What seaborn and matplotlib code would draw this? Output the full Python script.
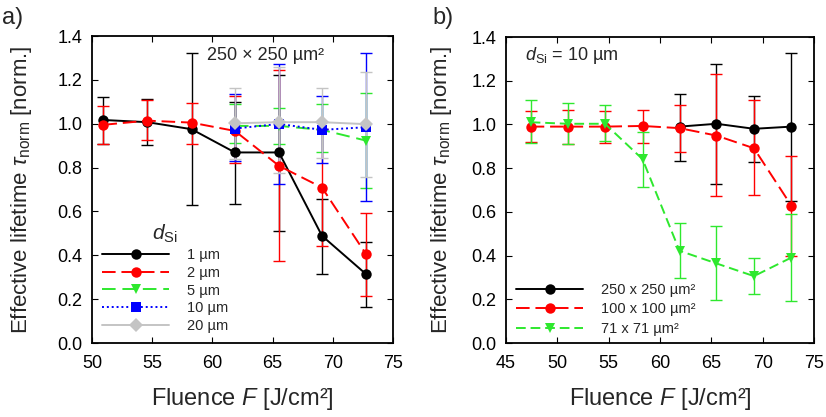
import numpy as np
import pandas as pd
import matplotlib
matplotlib.use("Agg")
import matplotlib.pyplot as plt
import seaborn as sns

# ---------------- data ----------------
F_a = [50.95, 54.6, 58.27, 61.87, 65.53, 69.1, 72.76]
F_a4 = [61.87, 65.53, 69.1, 72.76]

a_1um = [1.017, 1.007, 0.975, 0.869, 0.869, 0.489, 0.314]
a_1um_lo = [0.906, 0.902, 0.630, 0.636, 0.512, 0.316, 0.164]
a_1um_hi = [1.120, 1.111, 1.321, 1.100, 1.222, 0.656, 0.462]

a_2um = [0.995, 1.014, 1.005, 0.967, 0.808, 0.709, 0.405]
a_2um_lo = [0.906, 0.926, 0.906, 0.820, 0.372, 0.443, 0.216]
a_2um_hi = [1.080, 1.108, 1.093, 1.127, 1.245, 0.975, 0.592]

a_5um = [0.990, 0.990, 0.972, 0.923]
a_5um_lo = [0.911, 0.906, 0.869, 0.709]
a_5um_hi = [1.089, 1.070, 1.089, 1.142]

a_10um = [0.978, 0.999, 0.972, 0.984]
a_10um_lo = [0.832, 0.726, 0.823, 0.648]
a_10um_hi = [1.136, 1.271, 1.127, 1.321]

a_20um = [1.002, 1.007, 1.007, 0.998]
a_20um_lo = [0.840, 0.774, 0.843, 0.755]
a_20um_hi = [1.162, 1.260, 1.162, 1.237]

labels_a = ["1 µm", "2 µm", "5 µm", "10 µm", "20 µm"]

F_b = [47.4, 51.0, 54.64, 58.3, 61.9, 65.5, 69.15, 72.8]
F_b4 = [61.9, 65.5, 69.15, 72.8]

b_250 = [0.990, 1.003, 0.980, 0.990]
b_250_lo = [0.833, 0.726, 0.827, 0.650]
b_250_hi = [1.140, 1.276, 1.131, 1.327]

b_100 = [0.990, 0.990, 0.990, 0.993, 0.983, 0.949, 0.891, 0.628]
b_100_lo = [0.918, 0.911, 0.917, 0.917, 0.873, 0.672, 0.677, 0.400]
b_100_hi = [1.062, 1.067, 1.062, 1.067, 1.087, 1.232, 1.110, 0.857]

b_71 = [1.010, 1.003, 1.003, 0.841, 0.422, 0.364, 0.306, 0.391]
b_71_lo = [0.914, 0.911, 0.922, 0.715, 0.298, 0.199, 0.223, 0.191]
b_71_hi = [1.110, 1.100, 1.087, 0.967, 0.547, 0.535, 0.390, 0.588]

labels_b = ["250 x 250 µm²", "100 x 100 µm²", "71 x 71 µm²"]

xticks_a = [50, 55, 60, 65, 70, 75]
xticks_b = [45, 50, 55, 60, 65, 70, 75]
yticks = [0.0, 0.2, 0.4, 0.6, 0.8, 1.0, 1.2, 1.4]

# ---------------- style ----------------
sns.set_theme(style="ticks")
plt.rcParams["font.family"] = ["Liberation Sans", "DejaVu Sans"]
plt.rcParams["mathtext.fontset"] = "custom"
plt.rcParams["mathtext.rm"] = "Liberation Sans"
plt.rcParams["mathtext.it"] = "Liberation Sans:italic"
plt.rcParams["mathtext.default"] = "it"

BLACK, RED, GREEN, BLUE, GRAY = "#000000", "#ff0000", "#2ee82e", "#0000ff", "#c4c4c4"

fig = plt.figure(figsize=(8.26, 4.17), dpi=100)
axa = fig.add_axes([92 / 826, 1 - 343 / 417, 301 / 826, 307 / 417])
axb = fig.add_axes([506 / 826, 1 - 343 / 417, 308 / 826, 306 / 417])


def build(F_list, vals, labels):
    rows = []
    for F, v, lab in zip(F_list, vals, labels):
        for f, y in zip(F, v):
            rows.append({"F": f, "tau": y, "series": lab})
    return pd.DataFrame(rows)


# ---- panel a ----
Fs_a = [F_a, F_a, F_a4, F_a4, F_a4]
vals_a = [a_1um, a_2um, a_5um, a_10um, a_20um]
los_a = [a_1um_lo, a_2um_lo, a_5um_lo, a_10um_lo, a_20um_lo]
his_a = [a_1um_hi, a_2um_hi, a_5um_hi, a_10um_hi, a_20um_hi]
cols_a = [BLACK, RED, GREEN, BLUE, GRAY]

df_a = build(Fs_a, vals_a, labels_a)
for F, v, lo, hi, c in zip(Fs_a, vals_a, los_a, his_a, cols_a):
    v = np.array(v)
    axa.errorbar(F, v, yerr=[v - np.array(lo), np.array(hi) - v], fmt="none",
                 ecolor=c, elinewidth=1.0, capsize=4, capthick=1.0, zorder=2)
sns.lineplot(data=df_a, x="F", y="tau", hue="series", style="series",
             hue_order=labels_a, style_order=labels_a,
             palette=dict(zip(labels_a, cols_a)),
             markers=dict(zip(labels_a, ["o", "o", "v", "s", "D"])),
             dashes=dict(zip(labels_a, ["", (7, 3), (7, 3.5), (1, 1.5), ""])),
             markersize=7.5, markeredgewidth=0, linewidth=1.4, sort=False,
             ax=axa, zorder=3)
h, l = axa.get_legend_handles_labels()
axa.legend(h, l, title=r"$d_{\mathrm{Si}}$", loc="lower left",
           bbox_to_anchor=(0.0, 0.0), frameon=False, fontsize=10.5,
           title_fontsize=15, handlelength=4.6, labelspacing=0.25,
           handletextpad=1.2, borderaxespad=0.3)
axa.text(0.575, 0.935, "250 × 250 µm²", transform=axa.transAxes,
         ha="center", va="center", fontsize=13)
axa.set_xlim(50, 75)
axa.set_xticks(xticks_a)

# ---- panel b ----
Fs_b = [F_b4, F_b, F_b]
vals_b = [b_250, b_100, b_71]
los_b = [b_250_lo, b_100_lo, b_71_lo]
his_b = [b_250_hi, b_100_hi, b_71_hi]
cols_b = [BLACK, RED, GREEN]

df_b = build(Fs_b, vals_b, labels_b)
for F, v, lo, hi, c in zip(Fs_b, vals_b, los_b, his_b, cols_b):
    v = np.array(v)
    axb.errorbar(F, v, yerr=[v - np.array(lo), np.array(hi) - v], fmt="none",
                 ecolor=c, elinewidth=1.0, capsize=4, capthick=1.0, zorder=2)
sns.lineplot(data=df_b, x="F", y="tau", hue="series", style="series",
             hue_order=labels_b, style_order=labels_b,
             palette=dict(zip(labels_b, cols_b)),
             markers=dict(zip(labels_b, ["o", "o", "v"])),
             dashes=dict(zip(labels_b, ["", (7, 3), (5, 2.5)])),
             markersize=7.5, markeredgewidth=0, linewidth=1.4, sort=False,
             ax=axb, zorder=3)
h, l = axb.get_legend_handles_labels()
axb.legend(h, l, loc="lower left", bbox_to_anchor=(0.0, -0.01), frameon=False,
           fontsize=10.5, handlelength=4.6, labelspacing=0.38,
           handletextpad=1.2, borderaxespad=0.3)
axb.text(0.062, 0.94, r"$d_{\mathrm{Si}}$ = 10 µm", transform=axb.transAxes,
         ha="left", va="center", fontsize=13)
axb.set_xlim(45, 75)
axb.set_xticks(xticks_b)

for ax, lx in ((axa, -0.193), (axb, -0.169)):
    ax.set_ylim(0, 1.4)
    ax.set_yticks(yticks)
    ax.set_yticklabels([f"{t:.1f}" for t in yticks])
    ax.tick_params(direction="in", top=True, right=True, length=4, width=0.8,
                   labelsize=13, pad=7, colors="black")
    ax.tick_params(axis="x", pad=9)
    for s in ax.spines.values():
        s.set_linewidth(1.3)
        s.set_color("black")
    ax.set_xlabel(r"Fluence $F$ [J/cm²]", fontsize=17, labelpad=10)
    ax.set_ylabel(r"Effective lifetime $\tau_{\mathrm{norm}}$ [norm.]", fontsize=16)
    ax.yaxis.set_label_coords(lx, 0.5)
    ax.set_facecolor("white")

fig.text(2 / 826, 1 - 18 / 417, "a)", fontsize=17, va="center", ha="left")
fig.text(432 / 826, 1 - 18 / 417, "b)", fontsize=17, va="center", ha="left")

fig.savefig("out.png", dpi=100, facecolor="white")
